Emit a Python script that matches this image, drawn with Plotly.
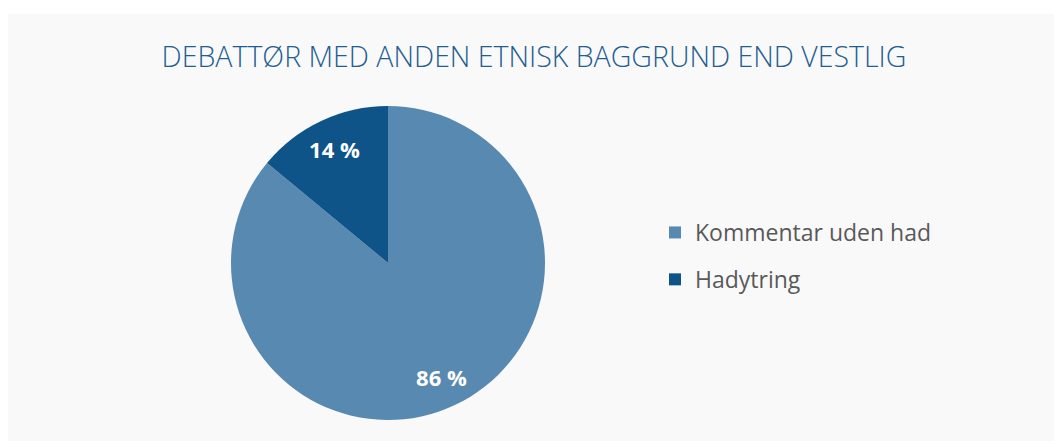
import plotly.graph_objects as go

labels = ["Kommentar uden had", "Hadytring"]
values = [86, 14]
colors = ["#5889B0", "#0F5488"]
text_labels = [f"{v} %" for v in values]

W, H = 1054, 441
pie_domain = dict(x=[231 / W, 545 / W], y=[21 / H, 335 / H])

fig = go.Figure()

# the slices themselves
fig.add_trace(go.Pie(
    labels=labels,
    values=values,
    textinfo="none",
    marker=dict(colors=colors, line=dict(width=0)),
    sort=False,
    direction="clockwise",
    rotation=0,
    domain=pie_domain,
    showlegend=False,
))

# transparent ring on top only to push the percentage labels outward
fig.add_trace(go.Pie(
    labels=labels,
    values=values,
    text=text_labels,
    textinfo="text",
    textposition="inside",
    insidetextorientation="horizontal",
    textfont=dict(family="Open Sans", size=22, color="white", weight="bold"),
    marker=dict(colors=["rgba(0,0,0,0)"] * len(values), line=dict(width=0)),
    sort=False,
    direction="clockwise",
    rotation=0,
    hole=0.6,
    domain=pie_domain,
    showlegend=False,
    hoverinfo="skip",
))

# legend entries (one group each so the gap between them can be set)
for i, (lab, col) in enumerate(zip(labels, colors)):
    fig.add_trace(go.Scatter(
        x=[None], y=[None],
        mode="markers",
        name=lab,
        legendgroup=f"g{i}",
        marker=dict(symbol="square", size=14, color=col),
    ))

fig.update_layout(
    width=W,
    height=H,
    margin=dict(l=0, r=0, t=0, b=0),
    paper_bgcolor="white",
    plot_bgcolor="rgba(0,0,0,0)",
    xaxis=dict(visible=False),
    yaxis=dict(visible=False),
    title=dict(
        text="DEBATTØR MED ANDEN ETNISK BAGGRUND END VESTLIG",
        x=534 / W, xanchor="center",
        y=1 - 57 / H, yanchor="middle",
        font=dict(family="Open Sans", size=28.5, color="#1F5E93", weight=300),
    ),
    legend=dict(
        x=655 / W, xanchor="left",
        y=1 - 211 / H, yanchor="top",
        font=dict(family="Open Sans", size=23, color="#595959"),
        bgcolor="rgba(0,0,0,0)",
        tracegroupgap=14,
        itemsizing="constant",
    ),
    shapes=[dict(
        type="rect", xref="paper", yref="paper",
        x0=8 / W, x1=1.0, y0=0, y1=1 - 14 / H,
        fillcolor="#F9F9F9", line=dict(width=0), layer="below",
    )],
)

fig.write_html(
    "out.html",
    config={"displayModeBar": False},
    post_script="document.body.style.margin='0';",
)
